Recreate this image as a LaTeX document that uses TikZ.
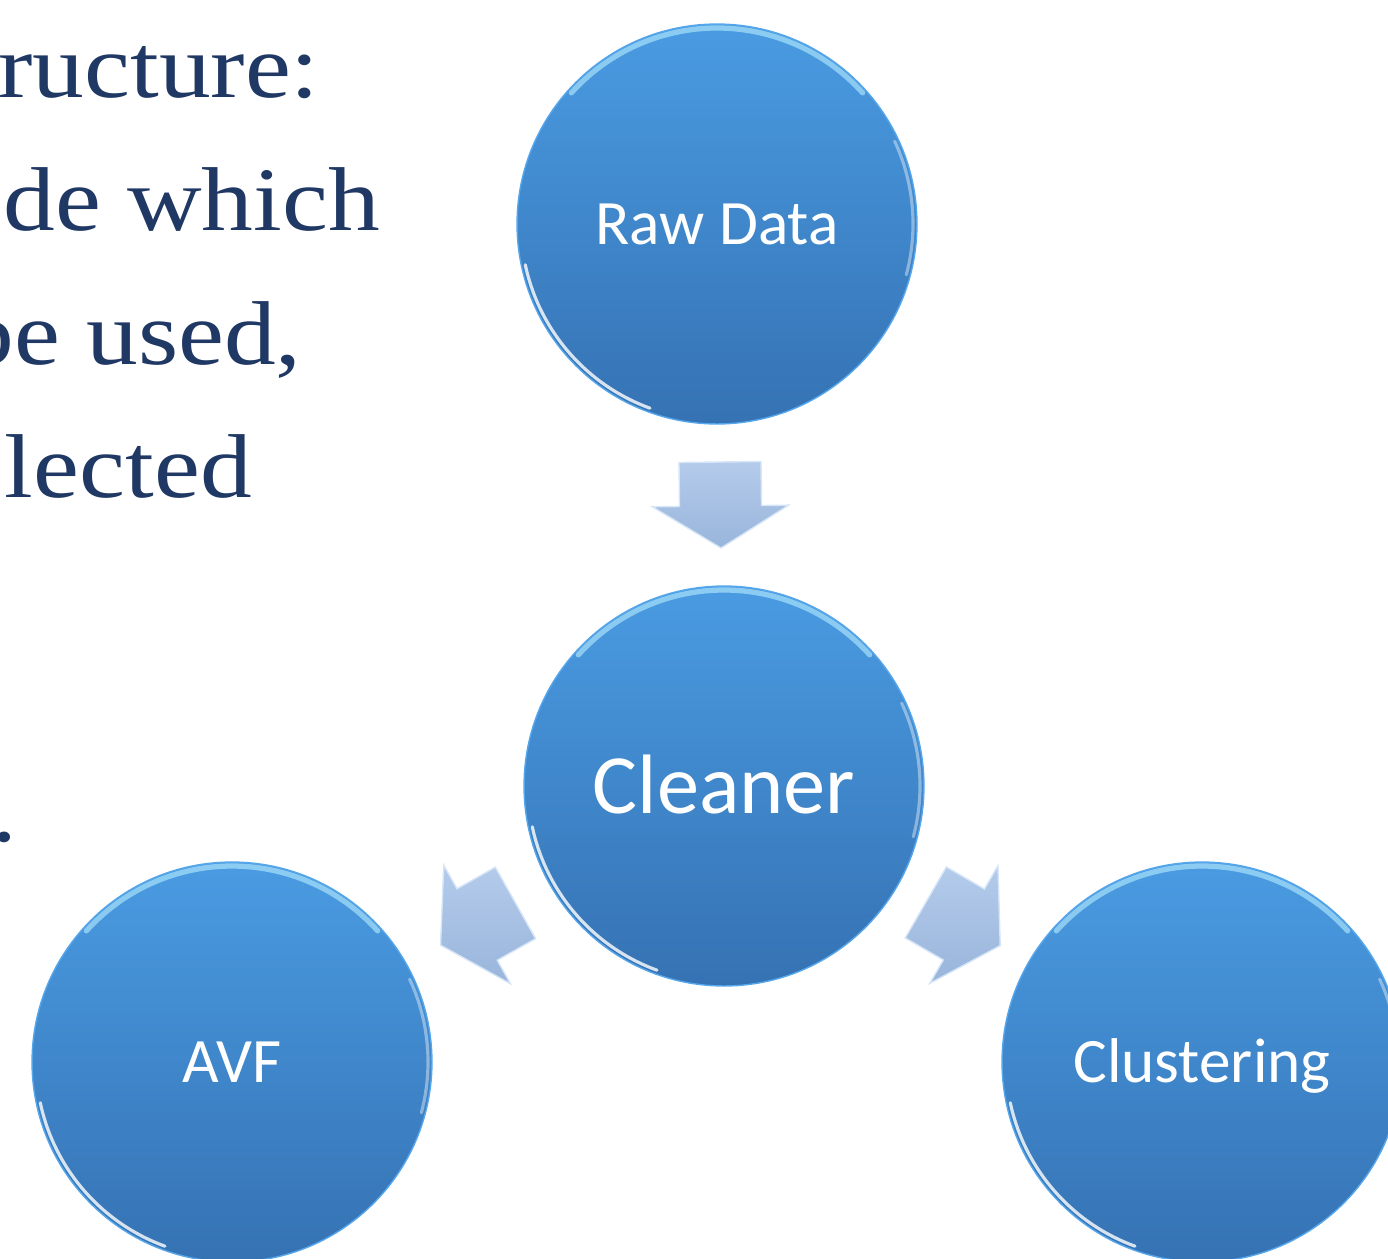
\documentclass[tikz,border=0pt]{standalone}
\usepackage{fontspec}
\setmainfont{Liberation Serif}
\newfontfamily\calfont{Carlito}
\newfontfamily\wideserif[FakeStretch=1.14]{Liberation Serif}
\usetikzlibrary{calc}
\definecolor{navy}{HTML}{203864}
\definecolor{balltop}{HTML}{4A9BE2}
\definecolor{ballbot}{HTML}{3572B3}
\definecolor{ballrim}{HTML}{56A6EC}
\definecolor{arrtop}{HTML}{B4CBEB}
\definecolor{arrbot}{HTML}{99B5DB}
\definecolor{arredge}{HTML}{D6E5F7}
\definecolor{rimcyan}{HTML}{B8EEFF}
\begin{document}
\begin{tikzpicture}[x=0.02cm,y=-0.02cm,
  ball/.style={circle, minimum size=8cm, inner sep=0pt, top color=balltop, bottom color=ballbot,
    draw=ballrim, line width=0.8pt, text=white, text depth=0pt},
  smalllabel/.style={font=\calfont\fontsize{36}{42}\selectfont, text height=23.2pt},
  biglabel/.style={font=\calfont\fontsize{48}{56}\selectfont, text height=30.9pt},
  lefttext/.style={inner sep=0pt, text=navy, font=\wideserif\fontsize{51.6}{62}\selectfont},
  arrowbody/.style={top color=arrtop, bottom color=arrbot, draw=arredge, line width=0.8pt, line join=miter},
  rimtop/.style={draw=rimcyan, line width=3pt, opacity=0.6, line cap=round},
  rimlow/.style={draw=white, line width=1.8pt, opacity=0.8, line cap=round},
  blockarrow/.pic={\path[arrowbody] (-43,-41) -- (1,-41) -- (1,-68) -- (43,0) -- (1,68) -- (1,41) -- (-43,41) -- cycle;}
]
\useasboundingbox (0,0) rectangle (1388,1258);
\clip (0,0) rectangle (1388,1258);

% left-hand text (cut by the picture edge, as in the reference)
\node[lefttext, anchor=base east] (t1) at (320,97) {ructure:};
\node[lefttext, anchor=base east] (t2) at (380,230) {de which};
\node[lefttext, anchor=base east] (t3) at (302,364) {be used,};
\node[lefttext, anchor=base east] (t4) at (252,497) {lected};
\node[lefttext, anchor=base west] (t5) at (-9,841) {.};

% circles
\node[ball, smalllabel] (raw) at (717,224) {Raw Data};
\node[ball, biglabel] (cleaner) at (724,786) {Cleaner};
\node[ball, smalllabel] (avf) at (232,1062) {AVF};
\node[ball, smalllabel] (clus) at (1202,1062) {Clustering};

% rim highlights
\foreach \n in {raw,cleaner,avf,clus}{
  \draw[rimtop] ($(\n)+(-42:196)$) arc[start angle=-42, end angle=-138, radius=196];
  \draw[rimlow] ($(\n)+(168:196)$) arc[start angle=168, end angle=110, radius=196];
  \draw[rimlow, opacity=0.4] ($(\n)+(15:196)$) arc[start angle=15, end angle=-25, radius=196];
}

% block arrows between the circles
\pic[rotate=-89.3] at ($(raw)!0.5!(cleaner)$) {blockarrow};
\pic[rotate=-150.6] at ($(cleaner)!0.5!(avf)$) {blockarrow};
\pic[rotate=-30.1] at ($(cleaner)!0.5!(clus)$) {blockarrow};
\end{tikzpicture}
\end{document}
